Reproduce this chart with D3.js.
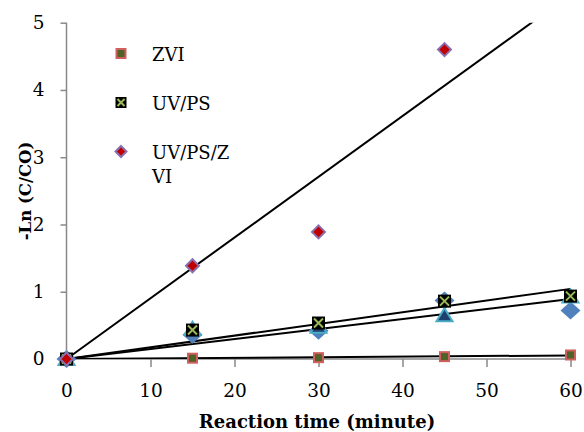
<!DOCTYPE html>
<html><head><meta charset="utf-8">
<script src="https://cdn.jsdelivr.net/npm/d3@7"></script>
<style>
html,body{margin:0;padding:0;background:#fff;}
</style></head>
<body><svg id="c" width="584" height="432"></svg>
<script>
// ---- data ----
const times = [0, 15, 30, 45, 60];
const zvi = [0, 0.012, 0.02, 0.035, 0.06];
const uvps = [0, 0.43, 0.535, 0.86, 0.935];
const uvpsZvi = [0, 1.386, 1.89, 4.60, null];
const hiddenDiamond = [0, 0.36, 0.42, 0.87, 0.72];
const hiddenTriangle = [0, 0.45, 0.48, 0.65, 0.93];
const xTicks = [0, 10, 20, 30, 40, 50, 60];
const yTicks = [0, 1, 2, 3, 4, 5];
const legendLabels = [["ZVI"], ["UV/PS"], ["UV/PS/Z", "VI"]];
const xTitle = "Reaction time (minute)";
const yTitle = "-Ln (C/CO)";

const FONT = "'DejaVu Serif', serif";
const svg = d3.select("#c");
const x = d3.scaleLinear().domain([0, 60]).range([66.5, 570.5]);
const y = d3.scaleLinear().domain([0, 5]).range([359, 22.7]);
const axisColor = "#898989";

// axes
const gx = svg.append("g").attr("transform", `translate(0,${y(0)})`)
  .call(d3.axisBottom(x).tickValues(xTicks).tickSize(8).tickPadding(14).tickFormat(d3.format("d")));
const gy = svg.append("g").attr("transform", `translate(${x(0)},0)`)
  .call(d3.axisLeft(y).tickValues(yTicks).tickSize(6).tickPadding(16).tickFormat(d3.format("d")));
[gx, gy].forEach(g => {
  g.attr("font-family", FONT).attr("font-size", 18.5);
  g.select(".domain").attr("stroke", axisColor).attr("stroke-width", 1.5);
  g.selectAll(".tick line").attr("stroke", axisColor).attr("stroke-width", 1.5);
  g.selectAll(".tick text").attr("fill", "#000");
});
gx.selectAll(".tick text").attr("dy", "0.85em");
gx.select(".domain").attr("d", `M${x(0)},0H${x(60)}`);
gy.select(".domain").attr("d", `M0,${y(5)}V${y(0)}`);

// titles
svg.append("text").attr("x", 317).attr("y", 428).attr("text-anchor", "middle")
  .attr("font-family", FONT).attr("font-size", 18).attr("font-weight", "bold").text(xTitle);
svg.append("text").attr("transform", "translate(31,191) rotate(-90)").attr("text-anchor", "middle")
  .attr("font-family", FONT).attr("font-size", 16.5).attr("font-weight", "bold").text(yTitle);

// clip
svg.append("clipPath").attr("id", "clip").append("rect")
  .attr("x", x(0)).attr("y", y(5)).attr("width", x(60) - x(0)).attr("height", y(0) - y(5));

function slope(vals) {
  let sxy = 0, sxx = 0;
  vals.forEach((v, i) => { if (v != null) { sxy += times[i] * v; sxx += times[i] * times[i]; } });
  return sxy / sxx;
}
const lines = svg.append("g").attr("clip-path", "url(#clip)");
[zvi, uvps, uvpsZvi, hiddenDiamond].forEach(s => {
  const k = slope(s);
  lines.append("line").attr("x1", x(0)).attr("y1", y(0)).attr("x2", x(60)).attr("y2", y(k * 60))
    .attr("stroke", "#000").attr("stroke-width", 2);
});

function diamondBlue(g, cx, cy) {
  g.append("path").attr("d", `M${cx},${cy-9}L${cx+10},${cy}L${cx},${cy+9}L${cx-10},${cy}Z`)
    .attr("fill", "#4f81bd");
}
function triangle(g, cx, cy) {
  g.append("path").attr("d", `M${cx},${cy-7}L${cx+8},${cy+6}L${cx-8},${cy+6}Z`)
    .attr("fill", "#1f3f6e").attr("stroke", "#4bacc6").attr("stroke-width", 2);
}
function square(g, cx, cy, s) {
  g.append("rect").attr("x", cx - s/2).attr("y", cy - s/2).attr("width", s).attr("height", s)
    .attr("fill", "#4f6228").attr("stroke", "#d0605d").attr("stroke-width", 2);
}
function xMark(g, cx, cy, s) {
  const h = s/2;
  g.append("rect").attr("x", cx - h).attr("y", cy - h).attr("width", s).attr("height", s).attr("fill", "#000");
  g.append("path").attr("d", `M${cx-h+2},${cy-h+2}L${cx+h-2},${cy+h-2}M${cx+h-2},${cy-h+2}L${cx-h+2},${cy+h-2}`)
    .attr("stroke", "#9bbb59").attr("stroke-width", 2);
}
function diamondRed(g, cx, cy, r) {
  g.append("path").attr("d", `M${cx},${cy-r}L${cx+r},${cy}L${cx},${cy+r}L${cx-r},${cy}Z`)
    .attr("fill", "#c00000").attr("stroke", "#8a6fb0").attr("stroke-width", 2);
}

const pts = svg.append("g");
hiddenDiamond.forEach((v, i) => { if (v != null) diamondBlue(pts, x(times[i]), y(v)); });
hiddenTriangle.forEach((v, i) => { if (v != null) triangle(pts, x(times[i]), y(v)); });
zvi.forEach((v, i) => { if (v != null) square(pts, x(times[i]), y(v), 9); });
uvps.forEach((v, i) => { if (v != null) xMark(pts, x(times[i]), y(v), 13); });
uvpsZvi.forEach((v, i) => { if (v != null) diamondRed(pts, x(times[i]), y(v), 6.5); });

const lg = svg.append("g");
const legY = [53.5, 102.5, 151.5];
const drawers = [
  (cx, cy) => square(lg, cx, cy, 9),
  (cx, cy) => xMark(lg, cx, cy, 11),
  (cx, cy) => diamondRed(lg, cx, cy, 5.5)
];
legendLabels.forEach((lines2, i) => {
  drawers[i](121, legY[i]);
  const t = lg.append("text").attr("x", 152).attr("y", legY[i] + 7)
    .attr("font-family", FONT).attr("font-size", 18);
  lines2.forEach((ln, j) => t.append("tspan").attr("x", 152).attr("dy", j === 0 ? 0 : 24).text(ln));
});
</script></body></html>
